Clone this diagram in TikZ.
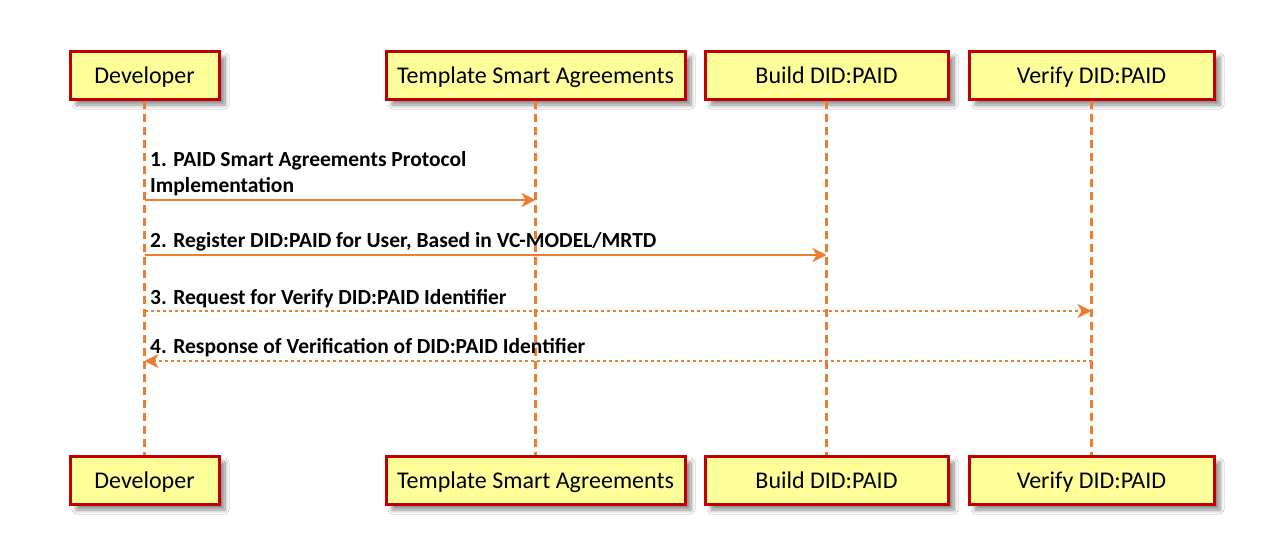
\documentclass[tikz,border=0pt]{standalone}
\usepackage{fontspec}
\setmainfont{Carlito}
\usetikzlibrary{arrows.meta,shadows.blur}
\definecolor{boxred}{HTML}{C00000}
\definecolor{boxfill}{HTML}{FFFF99}
\definecolor{lineorange}{HTML}{ED7D31}
\tikzset{
  actor/.style={draw=boxred, line width=3pt, fill=boxfill, minimum height=48pt, inner sep=0pt,
    text height=18pt, text depth=1pt,
    font=\fontsize{24}{28}\selectfont,
    blur shadow={shadow xshift=6pt, shadow yshift=-6pt, shadow blur steps=8, shadow blur radius=4pt, shadow opacity=45}},
  lifeline/.style={draw=lineorange, line width=2.3pt, dash pattern=on 8pt off 5pt},
  msg/.style={draw=lineorange, line width=2.8pt, -{Stealth[length=14pt,width=14pt,inset=4pt]}},
  msgdot/.style={msg, dash pattern=on 3pt off 3pt},
  lbl/.style={anchor=west, inner sep=0pt, font=\bfseries\fontsize{21.5}{26}\selectfont, align=left}
}
\begin{document}
\begin{tikzpicture}[x=1pt,y=-1pt]
\useasboundingbox[fill=white] (0,0) rectangle (1275,554);
% top boxes
\node[actor, minimum width=149pt] (devT) at (144.5,75) {Developer};
\node[actor, minimum width=299pt] (tmpT) at (535.5,75) {Template Smart Agreements};
\node[actor, minimum width=243pt] (bldT) at (826.5,75) {Build DID:PAID};
\node[actor, minimum width=245pt] (verT) at (1091.5,75) {Verify DID:PAID};
% bottom boxes
\node[actor, minimum width=149pt] (devB) at (144.5,480) {Developer};
\node[actor, minimum width=299pt] (tmpB) at (535.5,480) {Template Smart Agreements};
\node[actor, minimum width=243pt] (bldB) at (826.5,480) {Build DID:PAID};
\node[actor, minimum width=245pt] (verB) at (1091.5,480) {Verify DID:PAID};
% lifelines
\draw[lifeline] (devT.south) -- (devB.north);
\draw[lifeline] (tmpT.south) -- (tmpB.north);
\draw[lifeline] (bldT.south) -- (bldB.north);
\draw[lifeline] (verT.south) -- (verB.north);
% message anchor points
\coordinate (m1a) at (devT.south |- 0,200);
\coordinate (m1b) at (tmpT.south |- 0,200);
\coordinate (m2a) at (devT.south |- 0,255);
\coordinate (m2b) at (bldT.south |- 0,255);
\coordinate (m3a) at (devT.south |- 0,311);
\coordinate (m3b) at (verT.south |- 0,311);
\coordinate (m4a) at (devT.south |- 0,361);
\coordinate (m4b) at (verT.south |- 0,361);
% messages
\draw[msg] (m1a) -- (m1b);
\draw[msg] (m2a) -- (m2b);
\draw[msgdot] (m3a) -- (m3b);
\draw[msgdot] (m4b) -- (m4a);
% labels
\node[lbl] (l1) at (150,174) {1. PAID Smart Agreements Protocol\\Implementation};
\node[lbl] (l2) at (150,242) {2. Register DID:PAID for User, Based in VC-MODEL/MRTD};
\node[lbl] (l3) at (150,299) {3. Request for Verify DID:PAID Identifier};
\node[lbl] (l4) at (150,348) {4. Response of Verification of DID:PAID Identifier};
\end{tikzpicture}
\end{document}
